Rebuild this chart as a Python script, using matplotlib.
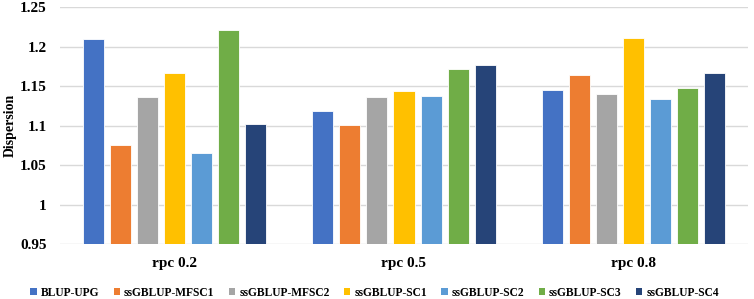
import matplotlib
matplotlib.use("Agg")
import matplotlib.pyplot as plt
import numpy as np
from matplotlib.patches import Patch

groups = ["rpc 0.2", "rpc 0.5", "rpc 0.8"]
series = ["BLUP-UPG", "ssGBLUP-MFSC1", "ssGBLUP-MFSC2", "ssGBLUP-SC1",
          "ssGBLUP-SC2", "ssGBLUP-SC3", "ssGBLUP-SC4"]
blup_upg = [1.209, 1.118, 1.145]
mfsc1 = [1.076, 1.101, 1.164]
mfsc2 = [1.136, 1.136, 1.140]
sc1 = [1.167, 1.144, 1.211]
sc2 = [1.066, 1.138, 1.134]
sc3 = [1.221, 1.172, 1.148]
sc4 = [1.102, 1.177, 1.167]
values = [blup_upg, mfsc1, mfsc2, sc1, sc2, sc3, sc4]
colors = ["#4472C4", "#ED7D31", "#A5A5A5", "#FFC000", "#5B9BD5", "#70AD47", "#264478"]
yticks = [0.95, 1.0, 1.05, 1.1, 1.15, 1.2, 1.25]
ytick_labels = ["0.95", "1", "1.05", "1.1", "1.15", "1.2", "1.25"]

plt.rcParams['font.family'] = ['Liberation Serif', 'DejaVu Serif']
plt.rcParams['font.weight'] = 'bold'

fig = plt.figure(figsize=(7.54, 2.99), dpi=100)
ax = fig.add_axes([0.0796, 0.183, 0.9124, 0.7936])

x = np.arange(len(groups))
step = 0.118
width = 0.092
n = len(series)
for i, (vals, c) in enumerate(zip(values, colors)):
    offs = (i - (n - 1) / 2) * step
    ax.bar(x + offs, np.array(vals) - 0.95, width, bottom=0.95, color=c,
           edgecolor='white', linewidth=0.6, zorder=3)

ax.set_ylim(0.95, 1.25)
ax.set_xlim(-0.5, 2.5)
ax.set_yticks(yticks)
ax.set_yticklabels(ytick_labels, fontsize=11, fontweight='bold')
ax.set_xticks(x)
ax.set_xticklabels(groups, fontsize=11, fontweight='bold')
ax.tick_params(axis='both', length=0)
ax.tick_params(axis='y', pad=9.5)
ax.tick_params(axis='x', pad=9)
ax.grid(axis='y', color='#D9D9D9', linewidth=1.0, zorder=0)
for s in ax.spines.values():
    s.set_visible(False)
fig.text(10 / 754, 1 - 125 / 299, "Dispersion", rotation=90, ha='center', va='center',
         fontsize=10, fontweight='bold')

handles = [Patch(facecolor=c, edgecolor='none') for c in colors]
fig.legend(handles, series, loc='center', bbox_to_anchor=(0.497, 0.02), ncol=7,
           frameon=False, prop={'size': 8.3, 'weight': 'bold'}, borderpad=0,
           handlelength=0.55, handleheight=0.55, handletextpad=0.35, columnspacing=1.25)

fig.savefig("out.png", dpi=100)
